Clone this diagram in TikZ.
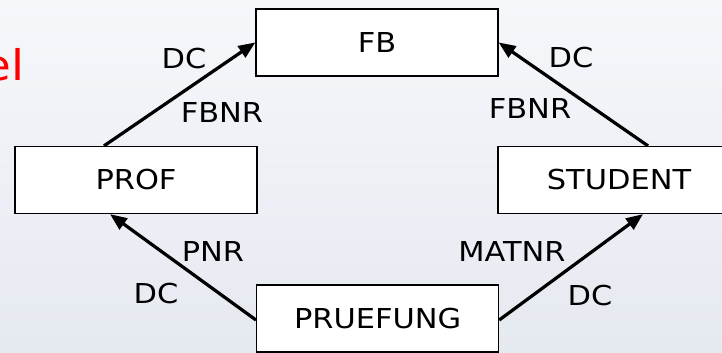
\documentclass[tikz,border=0pt]{standalone}
\usepackage{fontspec}
\setmainfont{DejaVu Sans}[FakeStretch=1.11]
\usepackage{tikz}
\usetikzlibrary{arrows.meta,positioning,calc}
\definecolor{bgtop}{RGB}{246,247,251}
\definecolor{bgbot}{RGB}{229,233,240}
\definecolor{titlered}{RGB}{255,0,0}

\begin{document}
\begin{tikzpicture}[
   >={Triangle[length=12pt,width=9.5pt]}, line width=0.9pt,
   box/.style={draw,fill=white,minimum width=60.5mm,minimum height=16.75mm,
               inner sep=0pt,align=center,font=\fontsize{19.5pt}{23pt}\selectfont},
   lbl/.style={inner sep=0pt,font=\fontsize{19.5pt}{23pt}\selectfont},
   rel/.style={->,line width=2.3pt},
   ]
%% background
\shade[top color=bgtop,bottom color=bgbot,draw=none] (0,0) rectangle (180.5mm,-88mm);
\useasboundingbox (0,0) rectangle (180.5mm,-88mm);
%% cut-off title
\node[anchor=base east,inner sep=0pt,text=titlered,
      font=\fontsize{30pt}{36pt}\selectfont] (title) at (6.25mm,-20mm) {el};
%% entities
\node[box] (fb)   at (94.25mm,-10.6mm) {FB};
\node[box] (prof) at (34mm,-45mm)      {PROF};
\node[box] (stud) at (154.75mm,-45mm)  {STUDENT};
\node[box] (pruef) at (94.4mm,-79.6mm) {PRUEFUNG};
%% foreign keys
\draw[rel] ([xshift=-8mm]prof.north)  -- (fb.west);
\draw[rel] ([xshift=7.25mm]stud.north) -- (fb.east);
\draw[rel] ([yshift=-0.4mm]pruef.west) -- ([xshift=-6.5mm]prof.south);
\draw[rel] ([yshift=-0.4mm]pruef.east) -- ([xshift=6mm]stud.south);
%% labels
\node[lbl] (dc1)   at (46mm,-14.75mm)  {DC};
\node[lbl] (fk1)   at (55.5mm,-28.25mm) {FBNR};
\node[lbl] (dc2)   at (142.75mm,-14.5mm) {DC};
\node[lbl] (fk2)   at (132.5mm,-27.25mm) {FBNR};
\node[lbl] (fk3)   at (53.25mm,-63mm)  {PNR};
\node[lbl] (dc3)   at (39mm,-73.5mm)   {DC};
\node[lbl] (fk4)   at (128mm,-63mm)    {MATNR};
\node[lbl] (dc4)   at (147.5mm,-74mm)  {DC};
\end{tikzpicture}
\end{document}
